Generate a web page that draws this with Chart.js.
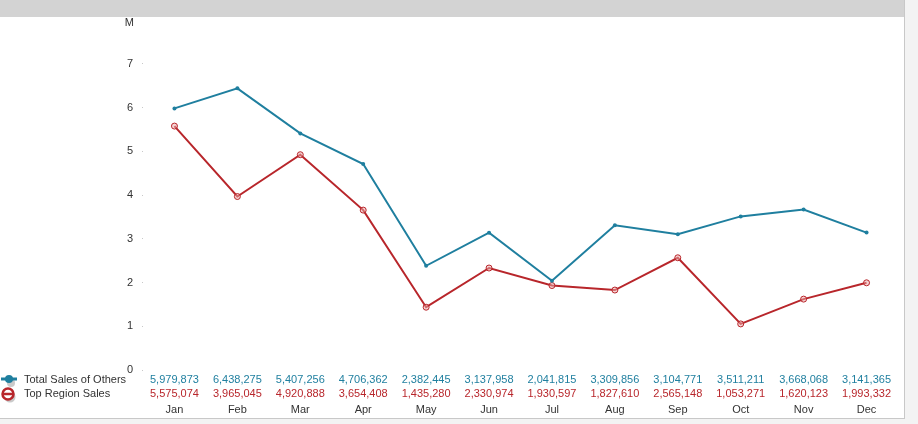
<!DOCTYPE html>
<html>
<head>
<meta charset="utf-8">
<script src="https://cdn.jsdelivr.net/npm/chart.js@4/dist/chart.umd.min.js"></script>
<style>
html,body{margin:0;padding:0;background:#f3f3f3;width:918px;height:424px;overflow:hidden;}
#panel{position:absolute;left:0;top:0;width:904px;height:418px;background:#fff;border-right:1px solid #c8c8c8;border-bottom:1px solid #c8c8c8;}
#band{position:absolute;left:0;top:0;width:904px;height:17px;background:#d3d3d3;}
#c{position:absolute;left:0;top:0;}
</style>
</head>
<body>
<div id="panel"></div>
<div id="band"></div>
<canvas id="c" width="918" height="424"></canvas>
<script>
const months = ['Jan','Feb','Mar','Apr','May','Jun','Jul','Aug','Sep','Oct','Nov','Dec'];
const totalSalesOfOthers = [5979873, 6438275, 5407256, 4706362, 2382445, 3137958, 2041815, 3309856, 3104771, 3511211, 3668068, 3141365];
const topRegionSales = [5575074, 3965045, 4920888, 3654408, 1435280, 2330974, 1930597, 1827610, 2565148, 1053271, 1620123, 1993332];
const seriesNames = ['Total Sales of Others', 'Top Region Sales'];
const yMax = 8000000;
const yStep = 1000000;
const unitLabel = 'M';

const BLUE = '#1f7f9f';
const RED = '#b8262b';
const FONT = 'Liberation Sans, Arial, sans-serif';
const fmt = v => v.toLocaleString('en-US');

const tablePlugin = {
  id: 'dataTable',
  afterDraw(chart) {
    const ctx = chart.ctx;
    const xs = chart.scales.x;
    const ys = chart.scales.y;
    ctx.save();
    ctx.font = '11px ' + FONT;
    ctx.textBaseline = 'middle';
    // unit label
    ctx.fillStyle = '#333';
    ctx.textAlign = 'right';
    ctx.fillText(unitLabel, 134, ys.getPixelForValue(yMax) + 3);
    // values
    ctx.textAlign = 'center';
    months.forEach((m, i) => {
      const x = xs.getPixelForValue(i);
      ctx.fillStyle = BLUE;
      ctx.fillText(fmt(totalSalesOfOthers[i]), x, 380);
      ctx.fillStyle = RED;
      ctx.fillText(fmt(topRegionSales[i]), x, 394);
    });
    // legend
    ctx.textAlign = 'left';
    ctx.fillStyle = '#333';
    ctx.fillText(seriesNames[0], 24, 380);
    ctx.fillText(seriesNames[1], 24, 394);
    // blue icon
    ctx.fillStyle = 'rgba(150,150,150,0.5)';
    ctx.beginPath(); ctx.arc(11, 383, 4, 0, Math.PI*2); ctx.fill();
    ctx.strokeStyle = BLUE; ctx.lineWidth = 3;
    ctx.beginPath(); ctx.moveTo(1, 379); ctx.lineTo(17, 379); ctx.stroke();
    ctx.fillStyle = BLUE;
    ctx.beginPath(); ctx.arc(9, 379, 4, 0, Math.PI*2); ctx.fill();
    // red icon
    ctx.fillStyle = 'rgba(150,150,150,0.5)';
    ctx.beginPath(); ctx.arc(10, 397, 5.5, 0, Math.PI*2); ctx.fill();
    ctx.fillStyle = '#fff';
    ctx.strokeStyle = RED; ctx.lineWidth = 2.5;
    ctx.beginPath(); ctx.arc(8, 394, 5.5, 0, Math.PI*2); ctx.fill(); ctx.stroke();
    ctx.beginPath(); ctx.moveTo(2, 394); ctx.lineTo(14, 394); ctx.stroke();
    ctx.restore();
  }
};

new Chart(document.getElementById('c'), {
  type: 'line',
  data: {
    labels: months,
    datasets: [
      {label: seriesNames[0], data: totalSalesOfOthers, borderColor: BLUE, backgroundColor: BLUE,
       borderWidth: 2, pointRadius: 2, pointBackgroundColor: BLUE, pointBorderWidth: 0, tension: 0},
      {label: seriesNames[1], data: topRegionSales, borderColor: RED, backgroundColor: RED,
       borderWidth: 2, pointRadius: 3, pointBackgroundColor: 'rgba(235,170,170,0.5)', pointBorderColor: RED,
       pointBorderWidth: 1, tension: 0}
    ]
  },
  options: {
    responsive: false,
    animation: false,
    devicePixelRatio: 1,
    layout: {padding: {top: 20, right: 20, left: 0, bottom: 0}},
    plugins: {legend: {display: false}, tooltip: {enabled: false}},
    scales: {
      x: {
        offset: true,
        grid: {display: false, drawTicks: false},
        border: {display: false},
        ticks: {padding: 33, color: '#333', font: {family: FONT, size: 11}, maxRotation: 0, autoSkip: false},
        afterFit(s) { s.height = 54; }
      },
      y: {
        min: 0, max: yMax,
        border: {display: false},
        grid: {drawOnChartArea: false, tickLength: 1,
               color: c => (c.tick && c.tick.value === yMax) ? 'rgba(0,0,0,0)' : '#c8c8c8'},
        ticks: {stepSize: yStep, padding: 9, color: '#333', font: {family: FONT, size: 11},
                callback: v => v === yMax ? '' : String(v / 1000000)},
        afterFit(s) { s.width = 143; }
      }
    }
  },
  plugins: [tablePlugin]
});
</script>
</body>
</html>
